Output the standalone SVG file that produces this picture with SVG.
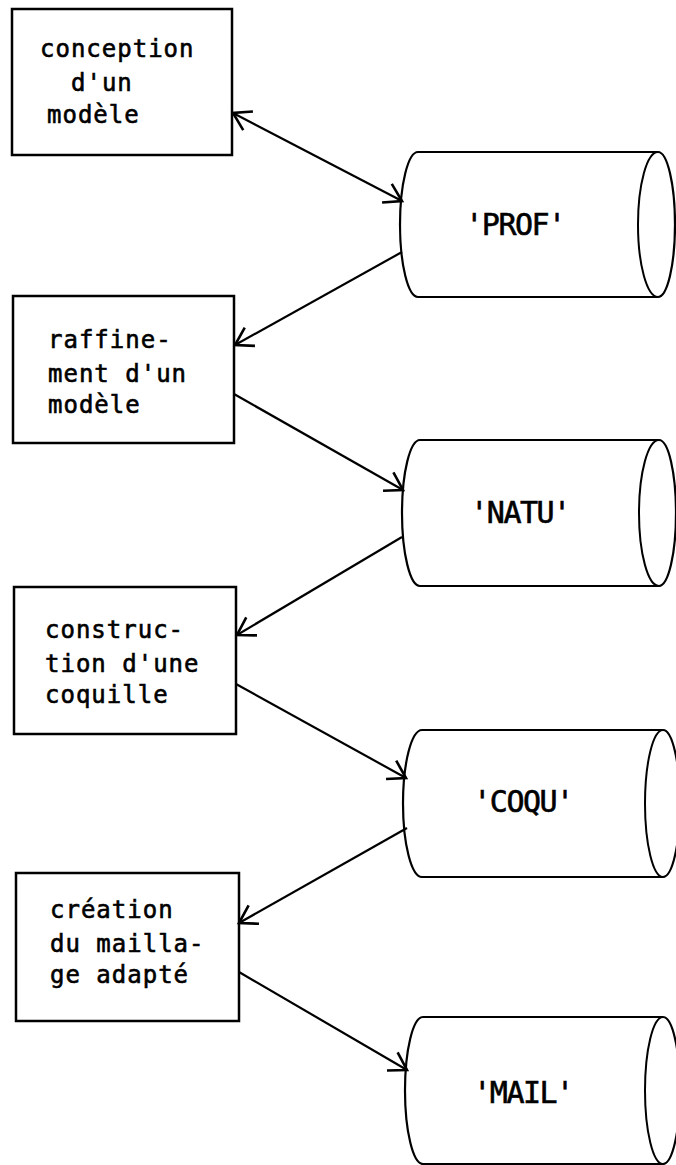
<svg xmlns="http://www.w3.org/2000/svg" width="676" height="1165" viewBox="0 0 676 1165">
<style>
.box{fill:#fff;stroke:#000;stroke-width:2.5}
.cyl{fill:#fff;stroke:#000;stroke-width:2.2}
.inner{fill:none;stroke:#000;stroke-width:2}
.t{font-family:"DejaVu Sans Mono","Liberation Mono",monospace;font-size:24px;letter-spacing:1px;fill:#000;stroke:#000;stroke-width:0.6}
.lbl{font-family:"DejaVu Sans Mono","Liberation Mono",monospace;font-size:30px;letter-spacing:-1.5px;fill:#000;stroke:#000;stroke-width:0.6;text-anchor:middle}
.con{fill:none;stroke:#000;stroke-width:2.2}
</style>
<defs>
<marker id="arr" markerWidth="1" markerHeight="1" refX="0" refY="0" orient="auto-start-reverse" markerUnits="userSpaceOnUse" overflow="visible">
<path d="M-17,-10.5 L0,0 L-17,10.5" fill="none" stroke="#000" stroke-width="2.6"/>
</marker>
</defs>
<g id="box1">
<rect class="box" x="12" y="9" width="220" height="146"/>
<text class="t" x="40" y="57">conception</text>
<text class="t" x="71" y="91">d'un</text>
<text class="t" x="47" y="123">modèle</text>
</g>
<g id="box2">
<rect class="box" x="13" y="296" width="221" height="147"/>
<text class="t" x="48" y="348">raffine-</text>
<text class="t" x="48" y="382">ment d'un</text>
<text class="t" x="48" y="413">modèle</text>
</g>
<g id="box3">
<rect class="box" x="14" y="587" width="222" height="147"/>
<text class="t" x="45" y="638">construc-</text>
<text class="t" x="45" y="672">tion d'une</text>
<text class="t" x="45" y="703">coquille</text>
</g>
<g id="box4">
<rect class="box" x="16" y="873" width="223" height="148"/>
<text class="t" x="50" y="918">création</text>
<text class="t" x="50" y="952">du mailla-</text>
<text class="t" x="50" y="983">ge adapté</text>
</g>
<g id="prof">
<path class="cyl" d="M418,152 H658 A17,72.5 0 0 1 658,297 H418 A18,72.5 0 0 1 418,152 Z"/>
<path class="inner" d="M658,152 A20,72.5 0 0 0 658,297"/>
<text class="lbl" x="515" y="235">'PROF'</text>
</g>
<g id="natu">
<path class="cyl" d="M420,440 H659 A17,73 0 0 1 659,586 H420 A18,73 0 0 1 420,440 Z"/>
<path class="inner" d="M659,440 A20,73 0 0 0 659,586"/>
<text class="lbl" x="520" y="523">'NATU'</text>
</g>
<g id="coqu">
<path class="cyl" d="M422,730 H663 A17,73.5 0 0 1 663,877 H422 A19,73.5 0 0 1 422,730 Z"/>
<path class="inner" d="M663,730 A18,73.5 0 0 0 663,877"/>
<text class="lbl" x="523" y="812">'COQU'</text>
</g>
<g id="mail">
<path class="cyl" d="M423,1017 H663 A17,73.5 0 0 1 663,1164 H423 A18,73.5 0 0 1 423,1017 Z"/>
<path class="inner" d="M663,1017 A18,73.5 0 0 0 663,1164"/>
<text class="lbl" x="523" y="1103">'MAIL'</text>
</g>
<g id="connectors">
<line class="con" x1="233" y1="113" x2="402" y2="201" marker-start="url(#arr)" marker-end="url(#arr)"/>
<line class="con" x1="402" y1="252" x2="235" y2="345" marker-end="url(#arr)"/>
<line class="con" x1="234" y1="394" x2="403" y2="490" marker-end="url(#arr)"/>
<line class="con" x1="402" y1="537" x2="237" y2="635" marker-end="url(#arr)"/>
<line class="con" x1="236" y1="684" x2="406" y2="778" marker-end="url(#arr)"/>
<line class="con" x1="407" y1="828" x2="239" y2="923" marker-end="url(#arr)"/>
<line class="con" x1="239" y1="972" x2="407" y2="1070" marker-end="url(#arr)"/>
</g>
</svg>
